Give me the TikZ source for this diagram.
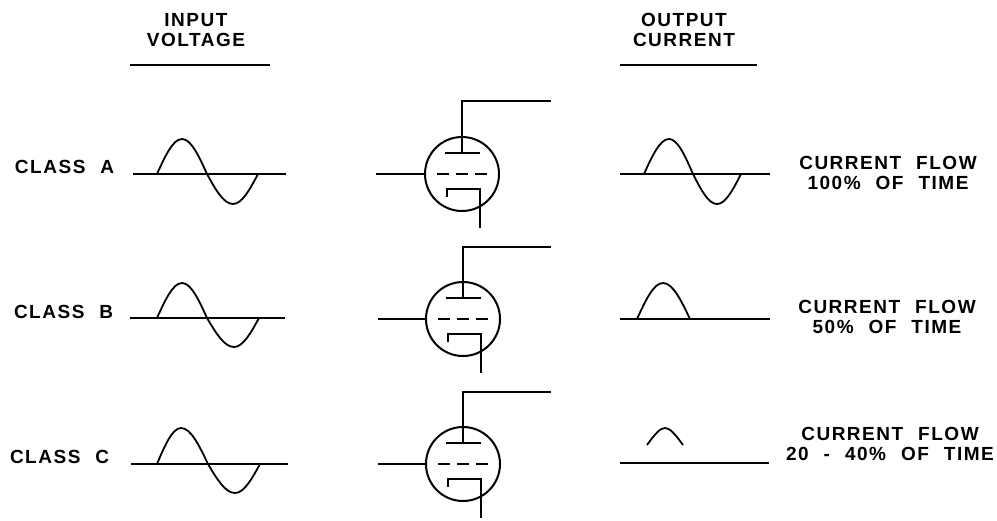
\documentclass[tikz,border=0pt]{standalone}
\usepackage{fontspec}
\setmainfont[LetterSpace=8,WordSpace=2.2]{Liberation Sans}
\usepackage{tikz}

\begin{document}
\begin{tikzpicture}[
    x=1pt, y=-1pt,
    line width=2pt,
    tube/.style={draw, circle, minimum size=74pt, inner sep=0pt},
    wave/.style={line width=1.8pt},
    txt/.style={font=\fontsize{19}{20}\selectfont\bfseries, align=center, inner sep=0pt},
    rowlabel/.style={txt, anchor=west}
]
  \useasboundingbox (0,0) rectangle (997,520);

  % --- HEADINGS ---
  \node[txt] (inhead) at (196,30) {INPUT\\VOLTAGE};
  \node[txt] (outhead) at (684,30) {OUTPUT\\CURRENT};
  \coordinate (inruleL) at (130,65);
  \coordinate (inruleR) at (270,65);
  \coordinate (outruleL) at (620,65);
  \coordinate (outruleR) at (757,65);
  \draw (inruleL) -- (inruleR);
  \draw (outruleL) -- (outruleR);

  % --- ROW LABELS ---
  \node[rowlabel] (classA) at (14,167) {CLASS A};
  \node[rowlabel] (classB) at (13,312) {CLASS B};
  \node[rowlabel] (classC) at (9,457) {CLASS C};
  \node[txt] (flowA) at (888,173) {CURRENT FLOW\\100\% OF TIME};
  \node[txt] (flowB) at (887,317) {CURRENT FLOW\\50\% OF TIME};
  \node[txt] (flowC) at (890,444) {CURRENT FLOW\\20 - 40\% OF TIME};

  % --- INPUT VOLTAGE ---
  \draw (133,174) -- (286,174);
  \draw[wave] (157,174) sin (182,139) cos (207,174) sin (233,204) cos (258,174);
  \draw (130,318) -- (285,318);
  \draw[wave] (157,318) sin (182,283) cos (207,318) sin (234,347) cos (259,318);
  \draw (131,464) -- (288,464);
  \draw[wave] (157,464) sin (181,428) cos (208,464) sin (235,493) cos (260,464);

  % --- OUTPUT CURRENT ---
  \draw (620,174) -- (770,174);
  \draw[wave] (644,174) sin (669,139) cos (693,174) sin (717,204) cos (741,174);
  \draw (620,319) -- (770,319);
  \draw[wave] (637,319) sin (663,283) cos (690,319);
  \draw (620,463) -- (769,463);
  \draw[wave] (647,445) .. controls (655,434) and (660,428) .. (665,428)
    .. controls (670,428) and (675,434) .. (683,445);

  % --- TUBES ---
  \node[tube] (tubeA) at (462,174) {};
  \node[tube] (tubeB) at (463,319) {};
  \node[tube] (tubeC) at (463,464) {};

  % first tube
  \coordinate (gridA) at (376,174);
  \coordinate (cornerA) at (462,101);
  \coordinate (plateA) at (551,101);
  \draw (gridA) -- (tubeA.west);
  \draw (plateA) -- (cornerA) -- (462,153);
  \draw (445,153) -- (480,153);
  \draw[dash pattern=on 12pt off 7pt] (437,174) -- (487,174);
  \draw (447,197) -- (447,189) -- (480,189) -- (480,228);

  % second tube
  \coordinate (gridB) at (378,319);
  \coordinate (cornerB) at (463,247);
  \coordinate (plateB) at (551,247);
  \draw (gridB) -- (tubeB.west);
  \draw (plateB) -- (cornerB) -- (463,298);
  \draw (446,298) -- (481,298);
  \draw[dash pattern=on 12pt off 7pt] (438,319) -- (488,319);
  \draw (448,342) -- (448,334) -- (481,334) -- (481,373);

  % third tube
  \coordinate (gridC) at (378,464);
  \coordinate (cornerC) at (463,392);
  \coordinate (plateC) at (551,392);
  \draw (gridC) -- (tubeC.west);
  \draw (plateC) -- (cornerC) -- (463,443);
  \draw (446,443) -- (481,443);
  \draw[dash pattern=on 12pt off 7pt] (438,464) -- (488,464);
  \draw (448,487) -- (448,479) -- (481,479) -- (481,518);

\end{tikzpicture}
\end{document}
